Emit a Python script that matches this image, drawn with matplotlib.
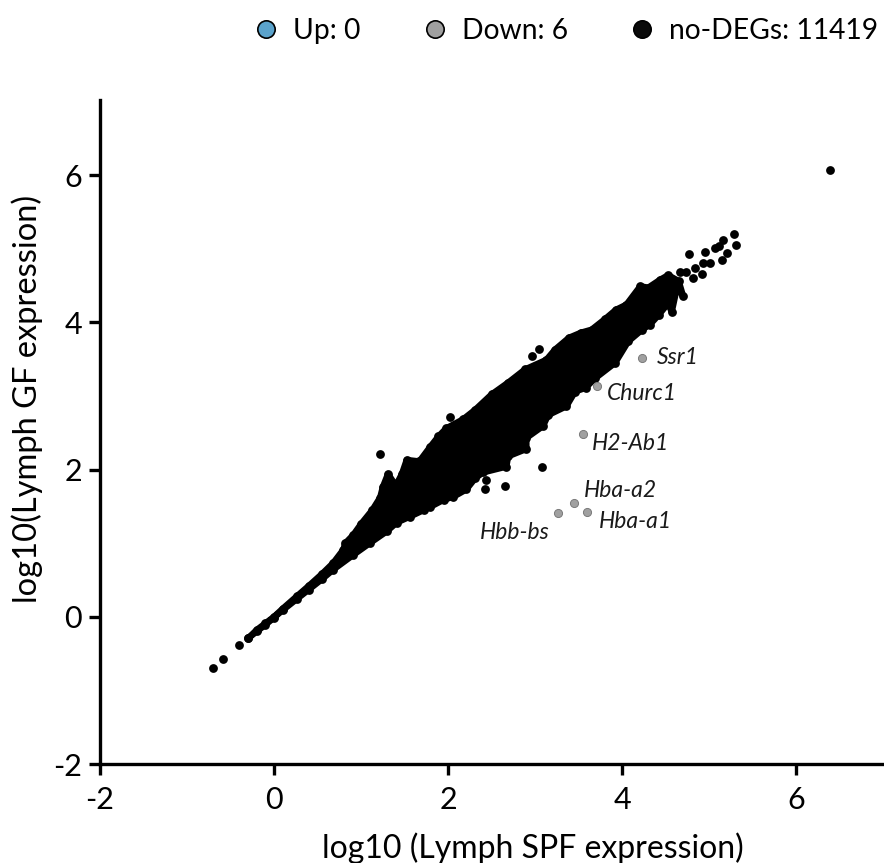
import matplotlib
matplotlib.use("Agg")
import matplotlib.pyplot as plt
from matplotlib.lines import Line2D

plt.rcParams['font.family'] = ['Lato', 'DejaVu Sans']
plt.rcParams['axes.unicode_minus'] = False

# Upper and lower edge of the dense cloud
upper_x = [-0.295, -0.2, -0.1, 0.0, 0.1, 0.26, 0.4, 0.55, 0.68, 0.796, 0.82, 0.91, 1.0, 1.13, 1.22, 1.25,
           1.31, 1.40, 1.47, 1.525, 1.67, 1.79, 1.89, 1.98, 2.17, 2.31, 2.50, 2.69, 2.885, 3.13, 3.23, 3.39, 3.53,
           3.65, 3.80, 3.93, 4.05, 4.21, 4.30, 4.44, 4.53, 4.65]
upper_y = [-0.29, -0.18, -0.09, 0.0, 0.11, 0.276, 0.42, 0.58, 0.73, 0.91, 1.0, 1.11, 1.26, 1.45, 1.62, 1.76,
           1.94, 1.78, 1.94, 2.13, 2.11, 2.30, 2.45, 2.56, 2.68, 2.81, 3.02, 3.18, 3.36, 3.49, 3.63, 3.79, 3.86,
           3.90, 4.04, 4.17, 4.24, 4.49, 4.47, 4.58, 4.64, 4.56]
lower_x = [-0.295, -0.2, -0.1, 0.0, 0.1, 0.26, 0.4, 0.55, 0.68, 0.91, 1.10, 1.295, 1.41, 1.56, 1.72, 1.79, 1.95, 2.06, 2.21,
           2.31, 2.40, 2.67, 2.69, 2.90, 2.90, 3.09, 3.15, 3.36, 3.46, 3.58, 3.69, 3.92, 4.07, 4.23,
           4.32, 4.42, 4.53, 4.57, 4.63, 4.70]
lower_y = [-0.29, -0.20, -0.11, -0.01, 0.09, 0.24, 0.37, 0.51, 0.64, 0.84, 1.0, 1.16, 1.28, 1.36, 1.45, 1.49, 1.59, 1.63, 1.73,
           1.88, 1.96, 2.04, 2.18, 2.28, 2.43, 2.59, 2.74, 2.86, 3.06, 3.11, 3.24, 3.45, 3.74, 3.90,
           3.97, 4.10, 4.26, 4.14, 4.47, 4.36]

# Points standing clear of the cloud
other_x = [-0.70, -0.59, -0.40, 1.22, 2.02, 2.43, 2.44, 2.655, 3.08, 2.96, 3.04, 4.66, 4.77, 4.74, 4.84, 4.82, 4.92, 4.93,
           4.95, 5.01, 5.07, 5.15, 5.16, 5.20, 5.11, 5.29, 5.31, 6.39]
other_y = [-0.69, -0.58, -0.39, 2.21, 2.71, 1.73, 1.86, 1.77, 2.03, 3.54, 3.64, 4.68, 4.93, 4.68, 4.74, 4.60, 4.65, 4.80,
           4.96, 4.80, 5.01, 4.85, 5.12, 4.94, 5.04, 5.20, 5.05, 6.07]

# Down-regulated genes
down_genes = ['Ssr1', 'Churc1', 'H2-Ab1', 'Hba-a2', 'Hba-a1', 'Hbb-bs']
down_x = [4.23, 3.71, 3.55, 3.45, 3.60, 3.26]
down_y = [3.52, 3.14, 2.48, 1.55, 1.42, 1.41]
label_x = [4.40, 3.83, 3.65, 3.56, 3.73, 2.36]
label_y = [3.52, 3.03, 2.36, 1.71, 1.30, 1.15]

ticks = [-2, 0, 2, 4, 6]
legend_labels = ['Up: 0', 'Down: 6', 'no-DEGs: 11419']
legend_colors = ['#5BA3CC', '#A0A0A0', '#0A0A0A']

fig = plt.figure(figsize=(8.84, 8.63), dpi=100)
ax = fig.add_axes([100 / 884, 99 / 863, 784 / 884, 664 / 863])
ax.set_xlim(-2, 7.01)
ax.set_ylim(-2, 7.02)

poly_x = upper_x + lower_x[::-1]
poly_y = upper_y + lower_y[::-1]
ax.fill(poly_x, poly_y, facecolor='black', edgecolor='black', lw=4.6, joinstyle='round', zorder=2)
ax.scatter(upper_x + lower_x + other_x, upper_y + lower_y + other_y,
           s=40, color='black', linewidths=0, zorder=3, clip_on=False)
ax.scatter(down_x, down_y, s=34, color='#A0A0A0', edgecolors='#7A7A7A', linewidths=0.7, zorder=4)

for g, x, y in zip(down_genes, label_x, label_y):
    ax.text(x, y, g, fontsize=16.5, style='italic', color='#1a1a1a', ha='left', va='center')

for s in ('top', 'right'):
    ax.spines[s].set_visible(False)
for s in ('left', 'bottom'):
    ax.spines[s].set_linewidth(2.4)
ax.set_xticks(ticks)
ax.set_yticks(ticks)
ax.tick_params(length=8, width=2.4, labelsize=22, pad=5)
ax.tick_params(axis='x', pad=8)
ax.set_xlabel('log10 (Lymph SPF expression)', fontsize=23, x=0.552, labelpad=13)
ax.set_ylabel('log10(Lymph GF expression)', fontsize=23.5, y=0.55, labelpad=7)

handles = [Line2D([], [], ls='none', marker='o', ms=12.5, mfc=c, mec='black', mew=1.2) for c in legend_colors]
fig.legend(handles, legend_labels, ncol=3, frameon=False, fontsize=20.3,
           loc='center right', bbox_to_anchor=(1.0, 1 - 31 / 863),
           handletextpad=-0.05, columnspacing=1.65, borderaxespad=0, borderpad=0.2)

fig.savefig('out.png', dpi=100)
